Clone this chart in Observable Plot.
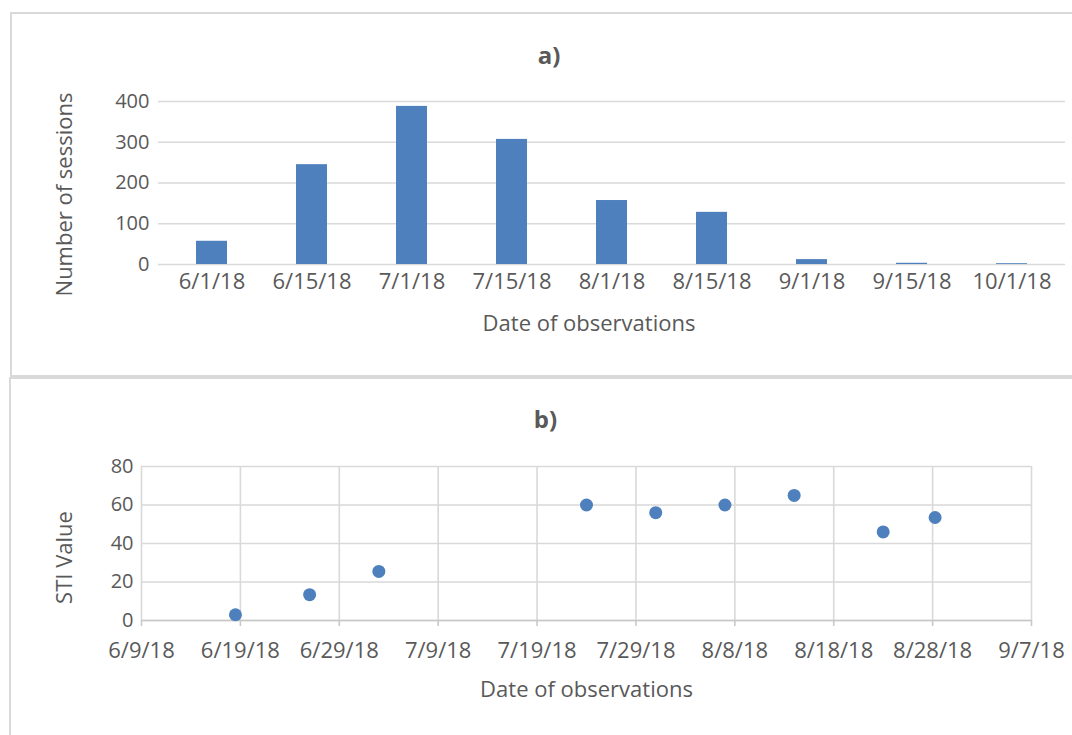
<!DOCTYPE html>
<html>
<head>
<meta charset="utf-8">
<script src="https://cdn.jsdelivr.net/npm/d3@7"></script>
<script src="https://cdn.jsdelivr.net/npm/@observablehq/plot@0.6"></script>
<style>
  html, body { margin: 0; padding: 0; background: #ffffff; }
  #page { position: relative; width: 1072px; height: 735px; overflow: hidden; background: #fff; }
  .panel { position: absolute; box-sizing: border-box; border: 2px solid #d9d9d9; pointer-events: none; }
  .chart { position: absolute; left: 0; }
</style>
</head>
<body>
<div id="page">
  <div class="chart" id="top" style="top:0px"></div>
  <div class="chart" id="bottom" style="top:377px"></div>
  <div class="panel" style="left:10px; top:12px; width:1080px; height:365px;"></div>
  <div class="panel" style="left:9px; top:377px; width:1080px; height:380px;"></div>
</div>
<script>
// ---- Panel a) : number of sessions per half-month ----
const sessionDates = ["6/1/18", "6/15/18", "7/1/18", "7/15/18", "8/1/18", "8/15/18", "9/1/18", "9/15/18", "10/1/18"];
const sessionCounts = [57, 245, 388, 307, 157, 128, 12, 3, 2];
const sessionTicks = [0, 100, 200, 300, 400];

// ---- Panel b) : STI values ----
const stiDates = ["2018-06-18T12:00Z", "2018-06-26", "2018-07-03", "2018-07-24", "2018-07-31", "2018-08-07", "2018-08-14", "2018-08-23", "2018-08-28T06:00Z"];
const stiValues = [3, 13.4, 25.5, 60, 56, 60, 65, 46, 53.5];
const stiXTicks = ["2018-06-09", "2018-06-19", "2018-06-29", "2018-07-09", "2018-07-19", "2018-07-29", "2018-08-08", "2018-08-18", "2018-08-28", "2018-09-07"];
const stiYTicks = [0, 20, 40, 60, 80];

const textColor = "#595959";
const gridColor = "#d9d9d9";
const blue = "#4e80bd";
const font = "'Open Sans', 'Noto Sans', sans-serif";

const sessions = sessionDates.map((d, i) => ({date: d, count: sessionCounts[i]}));
const sti = stiDates.map((d, i) => ({date: new Date(d.length > 10 ? d : d + "T00:00Z"), value: stiValues[i]}));
const xTickDates = stiXTicks.map(d => new Date(d + "T00:00Z"));
const fmtDate = d => `${d.getUTCMonth() + 1}/${d.getUTCDate()}/${String(d.getUTCFullYear()).slice(2)}`;

const label = (txt, opts) => Plot.text([txt], {textAnchor: "middle", lineAnchor: "middle", fontSize: 22, ...opts});

const topChart = Plot.plot({
  width: 1072,
  height: 376,
  marginLeft: 158,
  marginRight: 7,
  marginTop: 101,
  marginBottom: 112,
  style: {fontFamily: font, fontSize: "20px", color: textColor, background: "transparent", overflow: "visible"},
  x: {type: "band", domain: sessionDates, paddingInner: 0.685, paddingOuter: 0.3425},
  y: {domain: [0, 400]},
  marks: [
    Plot.gridY(sessionTicks, {stroke: gridColor, strokeOpacity: 1, strokeWidth: 1.6}),
    Plot.barY(sessions, {x: "date", y: "count", fill: blue}),
    Plot.axisY(sessionTicks, {tickSize: 0, tickPadding: 9, label: null, fontSize: 20}),
    Plot.axisX({tickSize: 0, tickPadding: 9, label: null, fontSize: 22}),
    label("a)", {frameAnchor: "top", dx: -63, dy: -45, fontSize: 24, fontWeight: "bold"}),
    label("Date of observations", {frameAnchor: "bottom", dx: -23, dy: 59}),
    label("Number of sessions", {frameAnchor: "left", dx: -94, dy: 11.5, rotate: -90})
  ]
});
document.getElementById("top").appendChild(topChart);

const bottomChart = Plot.plot({
  width: 1072,
  height: 358,
  marginLeft: 141,
  marginRight: 41,
  marginTop: 89,
  marginBottom: 115,
  style: {fontFamily: font, fontSize: "20px", color: textColor, background: "transparent", overflow: "visible"},
  x: {type: "utc", domain: [xTickDates[0], xTickDates[xTickDates.length - 1]]},
  y: {domain: [0, 80]},
  marks: [
    Plot.gridX(xTickDates, {stroke: gridColor, strokeOpacity: 1, strokeWidth: 1.6}),
    Plot.gridY(stiYTicks, {stroke: gridColor, strokeOpacity: 1, strokeWidth: 1.6}),
    Plot.ruleY([0], {stroke: "#c8c8c8", strokeWidth: 1.6}),
    Plot.axisX(xTickDates, {tickSize: 6, tickPadding: 16, stroke: "#c8c8c8", strokeWidth: 1.6, tickFormat: fmtDate, label: null, fontSize: 22}),
    Plot.axisY(stiYTicks, {tickSize: 0, tickPadding: 8, label: null, fontSize: 20}),
    Plot.dot(sti, {x: "date", y: "value", r: 6.5, fill: blue, stroke: "none"}),
    label("b)", {frameAnchor: "top", dx: -41, dy: -46, fontSize: 24, fontWeight: "bold"}),
    label("Date of observations", {frameAnchor: "bottom", dx: 0, dy: 69}),
    label("STI Value", {frameAnchor: "left", dx: -77, dy: 14, rotate: -90})
  ]
});
document.getElementById("bottom").appendChild(bottomChart);
</script>
</body>
</html>
